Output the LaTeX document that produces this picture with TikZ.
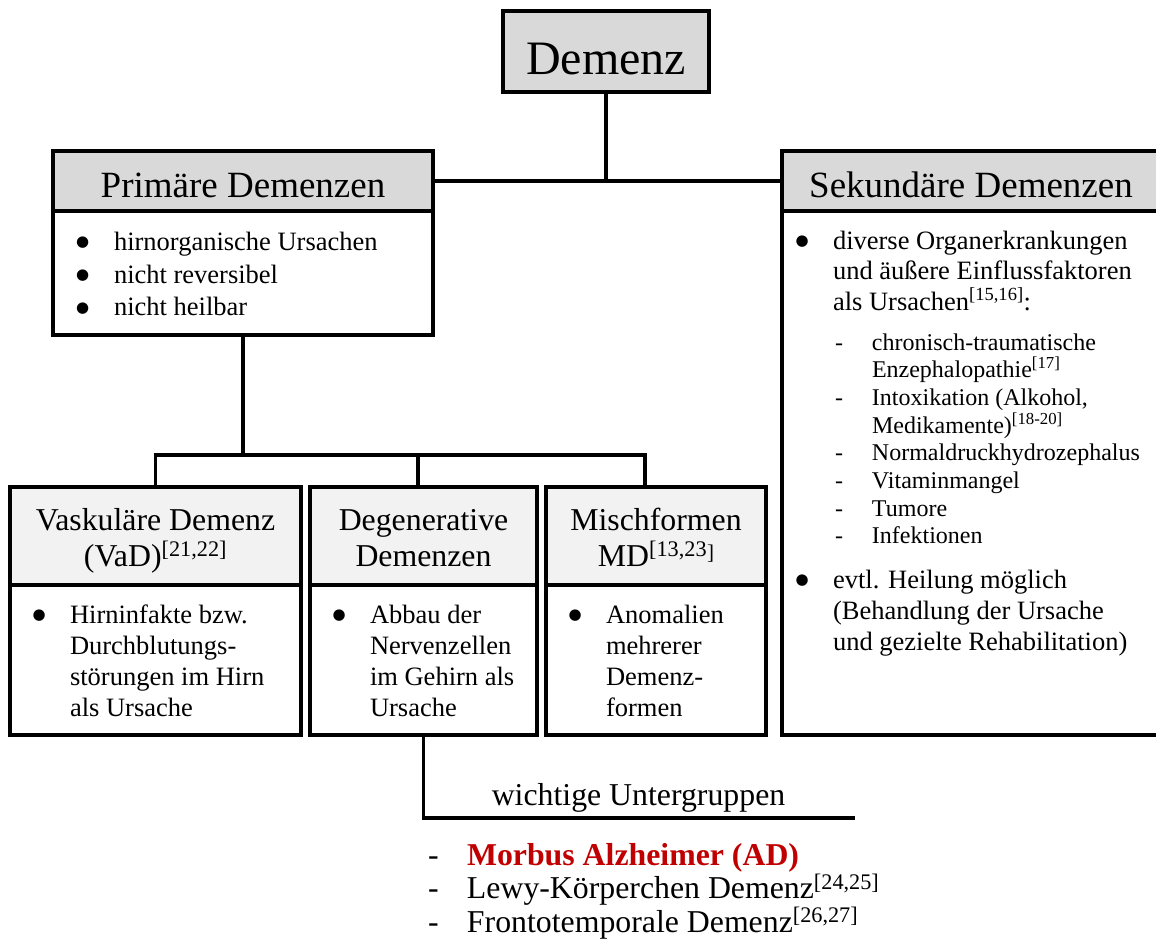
\documentclass[tikz,border=0pt]{standalone}
\usepackage{fontspec}
\setmainfont{Liberation Serif}
\newfontfamily\symfont{DejaVu Sans}
\usetikzlibrary{calc}
\definecolor{hdark}{HTML}{D9D9D9}
\definecolor{hlight}{HTML}{F2F2F2}
\definecolor{adred}{HTML}{C00000}
\newcommand{\mybul}[1]{\makebox[#1][l]{\hspace{0.5pt}\raisebox{3.5pt}{\fontsize{15}{15}\symfont ●}}}
\newcommand{\mydash}[1]{\makebox[#1][l]{-}}
\newcommand{\refsup}[1]{\smash{\textsuperscript{#1}}}
\tikzset{
  frame/.style={draw, line width=3.8pt, rectangle, inner sep=0pt, outer sep=0pt},
  darkhead/.style={frame, fill=hdark},
  lighthead/.style={frame, fill=hlight},
  bodybox/.style={frame, fill=white},
  conn/.style={line width=3.5pt},
  ctxt/.style={inner sep=0pt, outer sep=0pt, anchor=base},
  ltxt/.style={inner sep=0pt, outer sep=0pt, anchor=base west},
}
\begin{document}
\begin{tikzpicture}[x=1pt, y=-1pt]
\useasboundingbox (0,0) rectangle (1156,944);
\clip (0,0) rectangle (1156,944);
% --- boxes
\node[darkhead, minimum width=206pt, minimum height=81pt] (dem) at (606,51.5) {};
\node[darkhead, minimum width=380pt, minimum height=60pt] (primH) at (243,181) {};
\node[bodybox, minimum width=380pt, minimum height=124pt] (primB) at (243,273) {};
\node[darkhead, minimum width=384pt, minimum height=60pt] (sekH) at (974,181) {};
\node[bodybox, minimum width=384pt, minimum height=524pt] (sekB) at (974,473) {};
\node[lighthead, minimum width=291pt, minimum height=98pt] (vasH) at (155.5,536) {};
\node[bodybox, minimum width=291pt, minimum height=150pt] (vasB) at (155.5,660) {};
\node[lighthead, minimum width=227pt, minimum height=98pt] (degH) at (423.5,536) {};
\node[bodybox, minimum width=227pt, minimum height=150pt] (degB) at (423.5,660) {};
\node[lighthead, minimum width=220pt, minimum height=98pt] (misH) at (656,536) {};
\node[bodybox, minimum width=220pt, minimum height=150pt] (misB) at (656,660) {};
% --- connectors
\coordinate (bus) at (243,455);
\coordinate (busM) at (418,455);
\coordinate (busR) at (645,455);
\coordinate (subEnd) at (855,818);
\draw[conn] (dem.south) -- (dem.south |- primH.east);
\draw[conn] (primH.east) -- (sekH.west);
\draw[conn] (primB.south) -- (bus);
\draw[conn] (vasH.north) |- (busR) -- (busR |- misH.north);
\draw[conn] (busM) -- (busM |- degH.north);
\draw[conn] (degB.south) |- (subEnd);
% --- titles
\node[ctxt] (tDem) at (606,75) {\fontsize{48}{56}\selectfont Demenz};
\node[ctxt] (tPrim) at (243,197) {\fontsize{37}{44}\selectfont Primäre Demenzen};
\node[ctxt] (tSek) at (971,197) {\fontsize{37}{44}\selectfont Sekundäre Demenzen};
\node[ctxt] (tVas) at (155.5,530) {\fontsize{31.8}{36}\selectfont\begin{tabular}[t]{@{}c@{}}Vaskuläre Demenz\\(VaD)\refsup{[21,22]}\end{tabular}};
\node[ctxt] (tDeg) at (423.5,530) {\fontsize{31.8}{36}\selectfont\begin{tabular}[t]{@{}c@{}}Degenerative\\Demenzen\end{tabular}};
\node[ctxt] (tMis) at (656,530) {\fontsize{31.8}{36}\selectfont\begin{tabular}[t]{@{}c@{}}Mischformen\\MD\refsup{[13,23}\smash{\raisebox{0.22em}{\fontsize{21}{21}\selectfont ]}}\end{tabular}};
% --- body texts
\node[ltxt] (lPrim) at (75.5,250) {\fontsize{26.5}{33}\selectfont\begin{tabular}[t]{@{}l@{}l@{}}
\mybul{38.5pt}&hirnorganische Ursachen\\
\mybul{38.5pt}&nicht reversibel\\
\mybul{38.5pt}&nicht heilbar
\end{tabular}};
\node[ltxt] (lSek1) at (795,249) {\fontsize{26.5}{30.5}\selectfont\begin{tabular}[t]{@{}l@{}l@{}}
\mybul{38pt}&diverse Organerkrankungen\\
&und äußere Einflussfaktoren\\
&als Ursachen\refsup{[15,16]}:
\end{tabular}};
\node[ltxt] (lSek2) at (835,350) {\fontsize{24}{27.7}\selectfont\begin{tabular}[t]{@{}l@{}l@{}}
\mydash{37pt}&chronisch-traumatische\\
&Enzephalopathie\refsup{[17]}\\
\mydash{37pt}&Intoxikation (Alkohol,\\
&Medikamente)\refsup{[18-20]}\\
\mydash{37pt}&Normaldruckhydrozephalus\\
\mydash{37pt}&Vitaminmangel\\
\mydash{37pt}&Tumore\\
\mydash{37pt}&Infektionen
\end{tabular}};
\node[ltxt] (lSek3) at (795,588) {\fontsize{26.5}{31}\selectfont\begin{tabular}[t]{@{}l@{}l@{}}
\mybul{38pt}&evtl. Heilung möglich\\
&(Behandlung der Ursache\\
&und gezielte Rehabilitation)
\end{tabular}};
\node[ltxt] (lVas) at (32,623) {\fontsize{26.5}{31}\selectfont\begin{tabular}[t]{@{}l@{}l@{}}
\mybul{38pt}&Hirninfakte bzw.\\
&Durchblutungs-\\
&störungen im Hirn\\
&als Ursache
\end{tabular}};
\node[ltxt] (lDeg) at (332,623) {\fontsize{26.5}{31}\selectfont\begin{tabular}[t]{@{}l@{}l@{}}
\mybul{38pt}&Abbau der\\
&Nervenzellen\\
&im Gehirn als\\
&Ursache
\end{tabular}};
\node[ltxt] (lMis) at (568,623) {\fontsize{26.5}{31}\selectfont\begin{tabular}[t]{@{}l@{}l@{}}
\mybul{38pt}&Anomalien\\
&mehrerer\\
&Demenz-\\
&formen
\end{tabular}};
% --- subgroups
\node[ctxt] (tSub) at (638.5,805) {\fontsize{31.8}{36}\selectfont wichtige Untergruppen};
\node[ltxt] (lSub) at (428,865) {\fontsize{31.8}{33.5}\selectfont\begin{tabular}[t]{@{}l@{}l@{}}
\mydash{39pt}&\textcolor{adred}{\bfseries Morbus Alzheimer (AD)}\\
\mydash{39pt}&Lewy-Körperchen Demenz\refsup{[24,25]}\\
\mydash{39pt}&Frontotemporale Demenz\refsup{[26,27]}
\end{tabular}};
\end{tikzpicture}
\end{document}
